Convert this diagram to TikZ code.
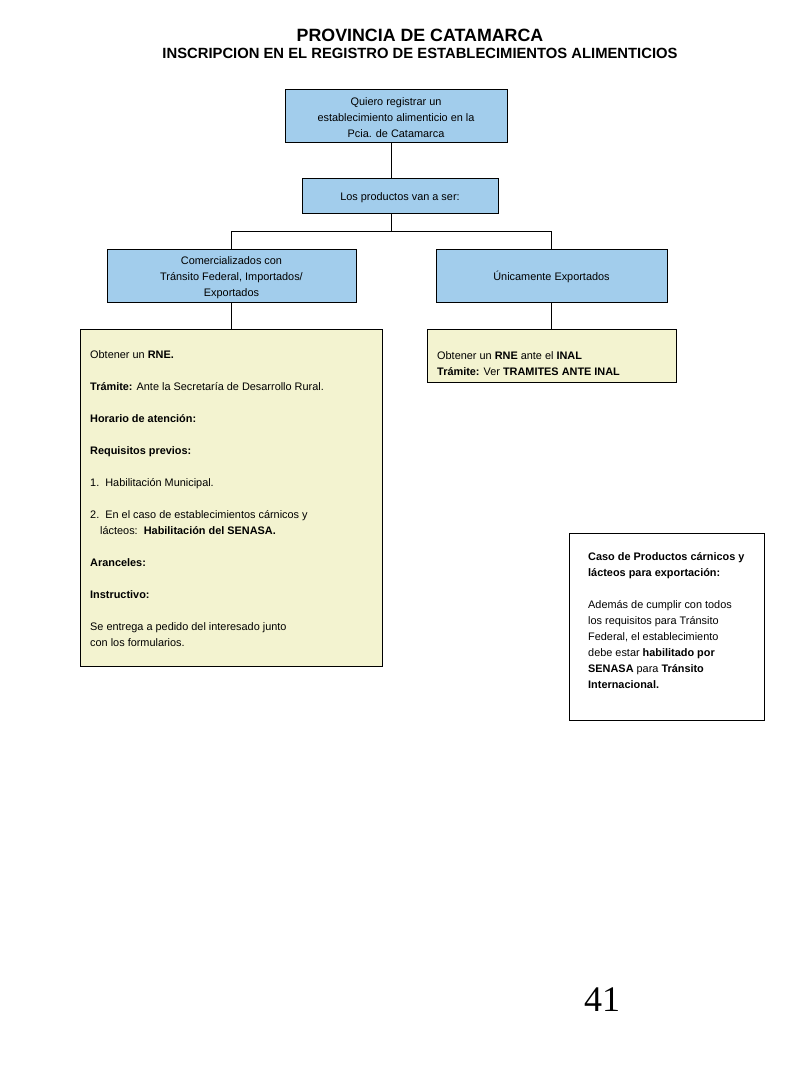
\documentclass[tikz,border=0pt]{standalone}
\usepackage{fontspec}
\setmainfont{Liberation Sans}
\newfontfamily\seriffont{Liberation Serif}
\definecolor{boxblue}{RGB}{162,205,236}
\definecolor{boxyellow}{RGB}{243,243,208}
\newcommand{\lowr}{\rule{0pt}{12pt}}
\begin{document}
\begin{tikzpicture}[x=1pt,y=-1pt,
  bluebox/.style={draw=black, line width=0.8pt, fill=boxblue, inner sep=0pt, align=center,
    font=\fontsize{10.9}{16}\selectfont},
  yellowbox/.style={draw=black, line width=0.8pt, fill=boxyellow, inner sep=0pt},
  plainbox/.style={draw=black, line width=0.8pt, fill=white, inner sep=0pt},
  bodytext/.style={inner sep=0pt, align=left, font=\fontsize{10.9}{16}\selectfont},
  link/.style={draw=black, line width=0.8pt}]
\useasboundingbox (0,0) rectangle (800,1066);
\fill[white] (0,0) rectangle (800,1066);

% titles
\node[inner sep=0pt, font=\fontsize{17.8}{20}\selectfont\bfseries] (title) at (420,35.5) {PROVINCIA DE CATAMARCA};
\node[inner sep=0pt, font=\fontsize{14.8}{16}\selectfont\bfseries] (subtitle) at (420,53) {INSCRIPCION EN EL REGISTRO DE ESTABLECIMIENTOS ALIMENTICIOS};

% blue boxes
\node[bluebox, minimum width=222pt, minimum height=53pt] (q) at (396,115.5)
  {\lowr Quiero registrar un\\establecimiento alimenticio en la\\Pcia. de Catamarca};
\node[bluebox, minimum width=196pt, minimum height=35pt] (p) at (400,195.5)
  {\lowr Los productos van a ser:};
\node[bluebox, minimum width=249pt, minimum height=53pt] (c) at (231.5,275.5)
  {\lowr Comercializados con\\Tránsito Federal, Importados/\\Exportados};
\node[bluebox, minimum width=231pt, minimum height=53pt] (u) at (551.5,275.5)
  {\lowr Únicamente Exportados};

% yellow boxes
\node[yellowbox, minimum width=302pt, minimum height=337pt] (r) at (231,497.5) {};
\node[bodytext, anchor=north west] (rt) at (90,350) {%
Obtener un \textbf{RNE.}\\[16pt]
\textbf{Trámite:} Ante la Secretaría de Desarrollo Rural.\\[16pt]
\textbf{Horario de atención:}\\[16pt]
\textbf{Requisitos previos:}\\[16pt]
1.\ \ Habilitación Municipal.\\[16pt]
2.\ \ En el caso de establecimientos cárnicos y\\
\hspace*{10pt}lácteos:\ \ \textbf{Habilitación del SENASA.}\\[16pt]
\textbf{Aranceles:}\\[16pt]
\textbf{Instructivo:}\\[16pt]
Se entrega a pedido del interesado junto\\
con los formularios.};

\node[yellowbox, minimum width=249pt, minimum height=53pt] (i) at (551.5,355.5) {};
\node[bodytext, anchor=north west] (it) at (437,351.5) {%
Obtener un \textbf{RNE} ante el \textbf{INAL}\\
\textbf{Trámite:} Ver \textbf{TRAMITES ANTE INAL}};

% note box
\node[plainbox, minimum width=195pt, minimum height=187pt] (n) at (666.5,626.5) {};
\node[bodytext, anchor=north west] (nt) at (588,552.5) {%
\textbf{Caso de Productos cárnicos y}\\
\textbf{lácteos para exportación:}\\[16pt]
Además de cumplir con todos\\
los requisitos para Tránsito\\
Federal, el establecimiento\\
debe estar \textbf{habilitado por}\\
\textbf{SENASA} para \textbf{Tránsito}\\
\textbf{Internacional.}};

% page number
\node[inner sep=0pt, font=\fontsize{36}{40}\selectfont\seriffont] (pg) at (602,1000) {41};

% connectors
\coordinate (split) at (391,231);
\draw[link] (q.south -| 391,0) -- (p.north -| 391,0);
\draw[link] (p.south -| 391,0) -- (split);
\draw[link] (split) -| (c.north);
\draw[link] (split) -| (u.north);
\draw[link] (c.south) -- (r.north -| c.south);
\draw[link] (u.south) -- (i.north -| u.south);
\end{tikzpicture}
\end{document}
